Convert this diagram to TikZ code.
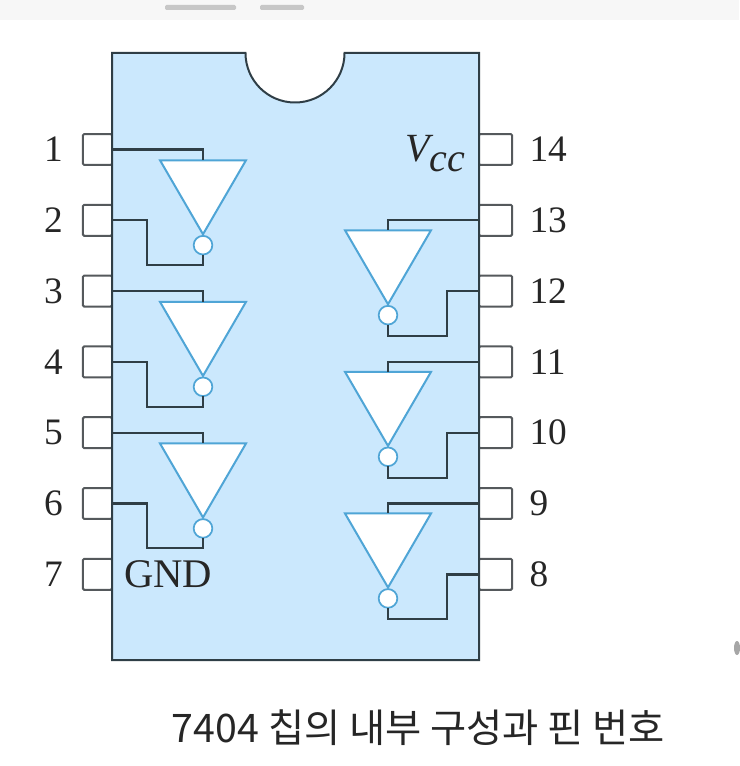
\documentclass[tikz,border=0pt]{standalone}
\usepackage{fontspec}
\setmainfont{Liberation Serif}
\newfontfamily\cjk{Noto Sans CJK KR}
\usepackage{xcolor}
\usetikzlibrary{shapes.geometric, positioning}
\definecolor{chipblue}{HTML}{CBE8FD}
\definecolor{wiredark}{HTML}{2F3E46}
\definecolor{gateblue}{HTML}{4FA5D6}
\definecolor{pingray}{HTML}{55595C}

\begin{document}
\begin{tikzpicture}[
    x=0.75pt, y=-0.75pt,
    pinbox/.style={rectangle, draw=pingray, fill=white, line width=1.5pt, rounded corners=1pt, minimum width=22pt, minimum height=23.2pt, inner sep=0pt, outer sep=0pt},
    rpinbox/.style={pinbox, minimum width=25pt},
    pinlabel/.style={inner sep=0pt, outer sep=0pt, text=black!85, font=\fontsize{28}{30}\selectfont},
    notgate/.style={isosceles triangle, isosceles triangle stretches, shape border rotate=270, draw=gateblue, fill=white, line width=1.5pt, minimum width=64.5pt, minimum height=55.5pt, inner sep=0pt, outer sep=0pt},
    bubble/.style={circle, draw=gateblue, fill=white, line width=1.3pt, minimum size=14pt, inner sep=0pt, outer sep=0pt},
    wire/.style={draw=wiredark, line width=1.8pt},
    chipbody/.style={draw=wiredark, fill=chipblue, line width=1.5pt}
]
\useasboundingbox (0,0) rectangle (739,766);

% Top bar
\fill[black!3] (0,0) rectangle (739,20);
\fill[black!22, rounded corners=1pt] (165,5) rectangle (236,10);
\fill[black!22, rounded corners=1pt] (260,5) rectangle (304,10);
\fill[black!35] (737,648) ellipse (3 and 7);

% Left pins
\node[pinbox] (p1) at (97.5,149.5) {};
\node[pinbox, below=29.9pt of p1] (p2) {};
\node[pinbox, below=29.9pt of p2] (p3) {};
\node[pinbox, below=29.9pt of p3] (p4) {};
\node[pinbox, below=29.9pt of p4] (p5) {};
\node[pinbox, below=29.9pt of p5] (p6) {};
\node[pinbox, below=29.9pt of p6] (p7) {};

% Right pins
\node[rpinbox] (p14) at (495.5,149.5) {};
\node[rpinbox, below=29.9pt of p14] (p13) {};
\node[rpinbox, below=29.9pt of p13] (p12) {};
\node[rpinbox, below=29.9pt of p12] (p11) {};
\node[rpinbox, below=29.9pt of p11] (p10) {};
\node[rpinbox, below=29.9pt of p10] (p9) {};
\node[rpinbox, below=29.9pt of p9] (p8) {};

% Chip body with notch
\draw[chipbody] (112,53) -- (245.5,53) arc (180:0:49.5) -- (479,53) -- (479,660) -- (112,660) -- cycle;

% Pin numbers
\node[pinlabel, left=15pt of p1] {1};
\node[pinlabel, left=15pt of p2] {2};
\node[pinlabel, left=15pt of p3] {3};
\node[pinlabel, left=15pt of p4] {4};
\node[pinlabel, left=15pt of p5] {5};
\node[pinlabel, left=15pt of p6] {6};
\node[pinlabel, left=15pt of p7] {7};
\node[pinlabel, right=13pt of p14] {14};
\node[pinlabel, right=13pt of p13] {13};
\node[pinlabel, right=13pt of p12] {12};
\node[pinlabel, right=13pt of p11] {11};
\node[pinlabel, right=13pt of p10] {10};
\node[pinlabel, right=13pt of p9] {9};
\node[pinlabel, right=13pt of p8] {8};

% Inverters
\node[notgate] (g1) at (203,185) {};
\node[bubble, below=1.2pt of g1.apex] (b1) {};
\node[notgate, below=50.7pt of g1] (g2) {};
\node[bubble, below=1.2pt of g2.apex] (b2) {};
\node[notgate, below=50.7pt of g2] (g3) {};
\node[bubble, below=1.2pt of g3.apex] (b3) {};
\node[notgate] (g4) at (388,255) {};
\node[bubble, below=1.2pt of g4.apex] (b4) {};
\node[notgate, below=50.7pt of g4] (g5) {};
\node[bubble, below=1.2pt of g5.apex] (b5) {};
\node[notgate, below=50.7pt of g5] (g6) {};
\node[bubble, below=1.2pt of g6.apex] (b6) {};

% Wire corners
\coordinate (c1) at (147,265);
\coordinate (c2) at (147,407);
\coordinate (c3) at (147,548);
\coordinate (c4) at (447,336);
\coordinate (c5) at (447,478);
\coordinate (c6) at (447,619);

% Wires
\draw[wire] (p1.east) -| (g1.lower side);
\draw[wire] (p2.east) -| (c1) -| (b1.south);
\draw[wire] (p3.east) -| (g2.lower side);
\draw[wire] (p4.east) -| (c2) -| (b2.south);
\draw[wire] (p5.east) -| (g3.lower side);
\draw[wire] (p6.east) -| (c3) -| (b3.south);
\draw[wire] (p13.west) -| (g4.lower side);
\draw[wire] (p12.west) -| (c4) -| (b4.south);
\draw[wire] (p11.west) -| (g5.lower side);
\draw[wire] (p10.west) -| (c5) -| (b5.south);
\draw[wire] (p9.west) -| (g6.lower side);
\draw[wire] (p8.west) -| (c6) -| (b6.south);

% Supply labels
\node[pinlabel, left=10pt of p14.west, yshift=-3pt, font=\fontsize{30}{30}\selectfont\itshape] (vcc) {V\raisebox{-7.5pt}{cc}};
\node[pinlabel, right=9pt of p7.east, font=\fontsize{30.5}{30}\selectfont] (gnd) {GND};

% Caption
\node[inner sep=0pt, text=black!85, font=\cjk\fontsize{29.5}{30}\selectfont] (caption) at (418.5,728) {7404 칩의 내부 구성과 핀 번호};

\end{tikzpicture}
\end{document}
